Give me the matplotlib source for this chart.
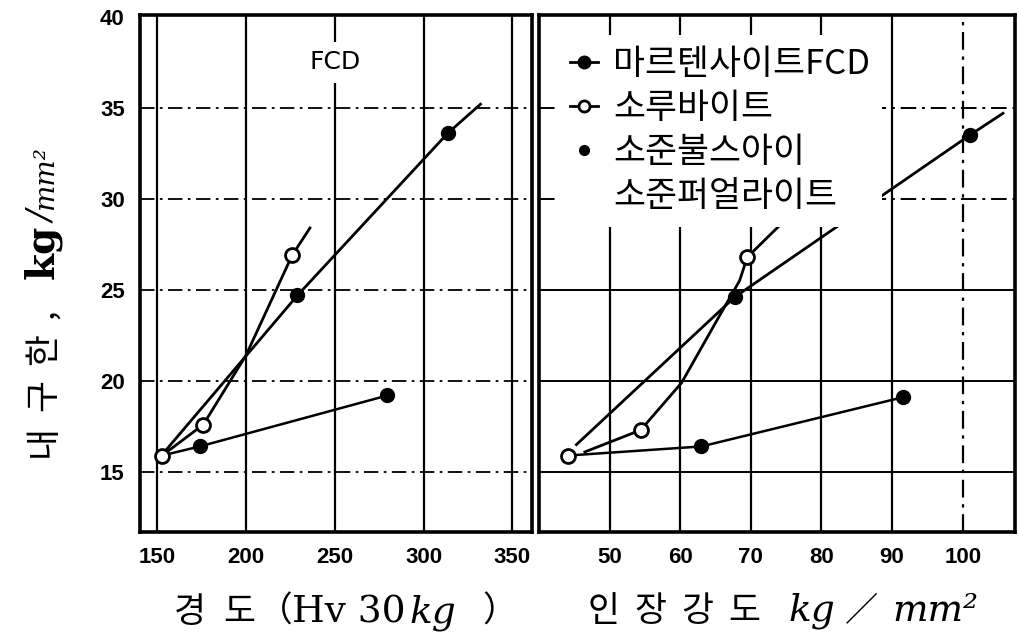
import matplotlib.pyplot as plt
from matplotlib.lines import Line2D

KR = 'Noto Sans CJK KR'
SERIF = 'DejaVu Serif'
NUM = 'Liberation Sans'

# endurance limit (kg/mm2) against Vickers hardness (Hv 30kg)
hv_mart = [229, 313.5]
el_mart = [24.7, 33.6]
hv_mart_line = [155, 229, 313.5, 332]
el_mart_line = [16.2, 24.7, 33.6, 35.2]

hv_sorb = [152.8, 176, 226]
el_sorb = [15.9, 17.6, 26.9]
hv_sorb_line = [152.8, 176, 200, 226, 236]
el_sorb_line = [15.9, 17.6, 21.4, 26.9, 28.4]

hv_pear = [174, 279.6]
el_pear = [16.4, 19.2]
hv_pear_line = [152.8, 174, 279.6]
el_pear_line = [15.9, 16.4, 19.2]

# endurance limit against tensile strength (kg/mm2)
ts_mart = [67.7, 101]
el2_mart = [24.6, 33.5]
ts_mart_line = [45.3, 67.7, 101, 105.7]
el2_mart_line = [16.5, 24.6, 33.5, 34.7]

ts_sorb = [44.1, 54.4, 69.5]
el2_sorb = [15.9, 17.3, 26.8]
ts_sorb_line = [46.5, 54.4, 60.2, 65.3, 68.4, 69.5, 74.5]
el2_sorb_line = [16.1, 17.3, 19.9, 23.4, 25.5, 26.8, 28.7]

ts_pear = [63, 91.5]
el2_pear = [16.4, 19.1]
ts_pear_line = [44.1, 63, 91.5]
el2_pear_line = [15.9, 16.4, 19.1]

y_ticks = [15, 20, 25, 30, 35, 40]
y_grid = [15, 20, 25, 30, 35]
hv_ticks = [150, 200, 250, 300, 350]
ts_ticks = [50, 60, 70, 80, 90, 100]

legend_labels = ['마르텐사이트FCD', '소루바이트', '소준불스아이', '소준퍼얼라이트']


def chain_text(fig, x, y, pieces, rotation=0):
    """Write text pieces one after another from figure point (x, y).

    Each piece is (text, gap_px, tracking_px, kwargs); with tracking the
    characters are set one by one with extra space between them."""
    renderer = fig.canvas.get_renderer()
    inv = fig.transFigure.inverted()
    for s, gap, track, kw in pieces:
        parts = list(s) if track else [s]
        for i, part in enumerate(parts):
            step = gap if i == 0 else track
            if rotation:
                y += step / fig.bbox.height
            else:
                x += step / fig.bbox.width
            t = fig.text(x, y, part, rotation=rotation, rotation_mode='anchor',
                         ha='left', va='baseline', **kw)
            bb = t.get_window_extent(renderer)
            if rotation:
                y = inv.transform((0, bb.y1))[1]
            else:
                x = inv.transform((bb.x1, 0))[0]


fig = plt.figure(figsize=(10.2, 6.4), dpi=100)
ax_hv = fig.add_axes([0.1373, 0.16875, 0.3843, 0.8078])
ax_ts = fig.add_axes([0.5284, 0.16875, 0.4667, 0.8078])

dash = (0, (8, 3, 1.5, 3))
for ax in (ax_hv, ax_ts):
    ax.set_ylim(11.7, 40.1)
    for s in ax.spines.values():
        s.set_linewidth(2.6)
    ax.tick_params(length=0, labelsize=16)

# hardness panel
ax_hv.set_xlim(140.4, 361)
for v in hv_ticks:
    ax_hv.axvline(v, color='k', lw=1.6, zorder=1)
for v in y_grid:
    ax_hv.axhline(v, color='k', lw=1.3, ls=dash, zorder=1)

ax_hv.plot(hv_mart_line, el_mart_line, color='k', lw=2, zorder=3)
ax_hv.plot(hv_sorb_line, el_sorb_line, color='k', lw=2, zorder=3)
ax_hv.plot(hv_pear_line, el_pear_line, color='k', lw=1.8, zorder=3)
ax_hv.plot(hv_mart, el_mart, 'o', color='k', ms=10, zorder=4)
ax_hv.plot(hv_pear, el_pear, 'o', color='k', ms=10, zorder=4)
ax_hv.plot(hv_sorb, el_sorb, 'o', mfc='white', mec='k', mew=2, ms=10, zorder=4)
ax_hv.text(250, 37.5, 'FCD', ha='center', va='center', fontsize=18,
           family='DejaVu Sans', zorder=5,
           bbox=dict(facecolor='white', edgecolor='none', pad=6))

ax_hv.set_xticks(hv_ticks)
ax_hv.set_yticks(y_ticks)
ax_hv.tick_params(axis='x', pad=11)
ax_hv.tick_params(axis='y', pad=11)

# tensile strength panel
ax_ts.set_xlim(40, 107.4)
for v in ts_ticks:
    ax_ts.axvline(v, color='k', lw=1.6, zorder=1,
                  ls=dash if v == 100 else '-')
for v in y_grid:
    ax_ts.axhline(v, color='k', lw=1.4, zorder=1,
                  ls=dash if v >= 30 else '-')

ax_ts.plot(ts_mart_line, el2_mart_line, color='k', lw=2, zorder=3)
ax_ts.plot(ts_sorb_line, el2_sorb_line, color='k', lw=2, zorder=3)
ax_ts.plot(ts_pear_line, el2_pear_line, color='k', lw=1.8, zorder=3)
ax_ts.plot(ts_mart, el2_mart, 'o', color='k', ms=10, zorder=4)
ax_ts.plot(ts_pear, el2_pear, 'o', color='k', ms=10, zorder=4)
ax_ts.plot(ts_sorb, el2_sorb, 'o', mfc='white', mec='k', mew=2, ms=10, zorder=4)

ax_ts.set_xticks(ts_ticks)
ax_ts.set_yticks(y_ticks)
ax_ts.tick_params(axis='x', pad=11)
ax_ts.tick_params(axis='y', labelleft=False)

for ax in (ax_hv, ax_ts):
    for lab in ax.get_xticklabels() + ax.get_yticklabels():
        lab.set_family(NUM)
        lab.set_fontweight('bold')

# legend: the last label is the second line of the third entry
handles = [
    Line2D([], [], color='k', lw=2, marker='o', ms=9),
    Line2D([], [], color='k', lw=2, marker='o', ms=8, mfc='white', mew=2),
    Line2D([], [], color='none', marker='o', ms=7, mfc='k', mec='k'),
    Line2D([], [], color='none'),
]
leg = ax_ts.legend(handles, legend_labels, loc='upper left',
                   bbox_to_anchor=(0.04, 0.961), prop=dict(family=KR, size=25),
                   handlelength=0.8, handletextpad=0.43, labelspacing=0.26,
                   borderpad=0.35, borderaxespad=0, frameon=True,
                   fancybox=False, framealpha=1, facecolor='white',
                   edgecolor='none')
leg.set_zorder(5)

kr = dict(family=[KR], fontsize=25)
serif = dict(family=[SERIF, KR], fontsize=27)
serif_it = dict(family=[SERIF], fontsize=27, style='italic')

chain_text(fig, 0.170, 0.028, [
    ('경도', 0, 18, kr),
    ('（', 2, 0, kr),
    ('Hv 30', 0, 0, serif),
    ('kg', 4, 0, serif_it),
    ('）', 26, 0, kr),
])
chain_text(fig, 0.576, 0.030, [
    ('인장강도', 0, 15, kr),
    ('kg', 28, 0, serif_it),
    ('／', 10, 0, dict(family=[KR], fontsize=24)),
    ('mm²', 14, 0, serif_it),
])
chain_text(fig, 0.052, 0.286, [
    ('내구한,', 0, 14, kr),
    ('kg', 30, 0, dict(family=[SERIF], fontsize=28, weight='bold')),
    ('/', 2, 0, dict(family=[SERIF], fontsize=24, style='italic')),
    ('mm²', 2, 0, dict(family=[SERIF], fontsize=20, style='italic')),
], rotation=90)

fig.savefig('out.png', dpi=100)
